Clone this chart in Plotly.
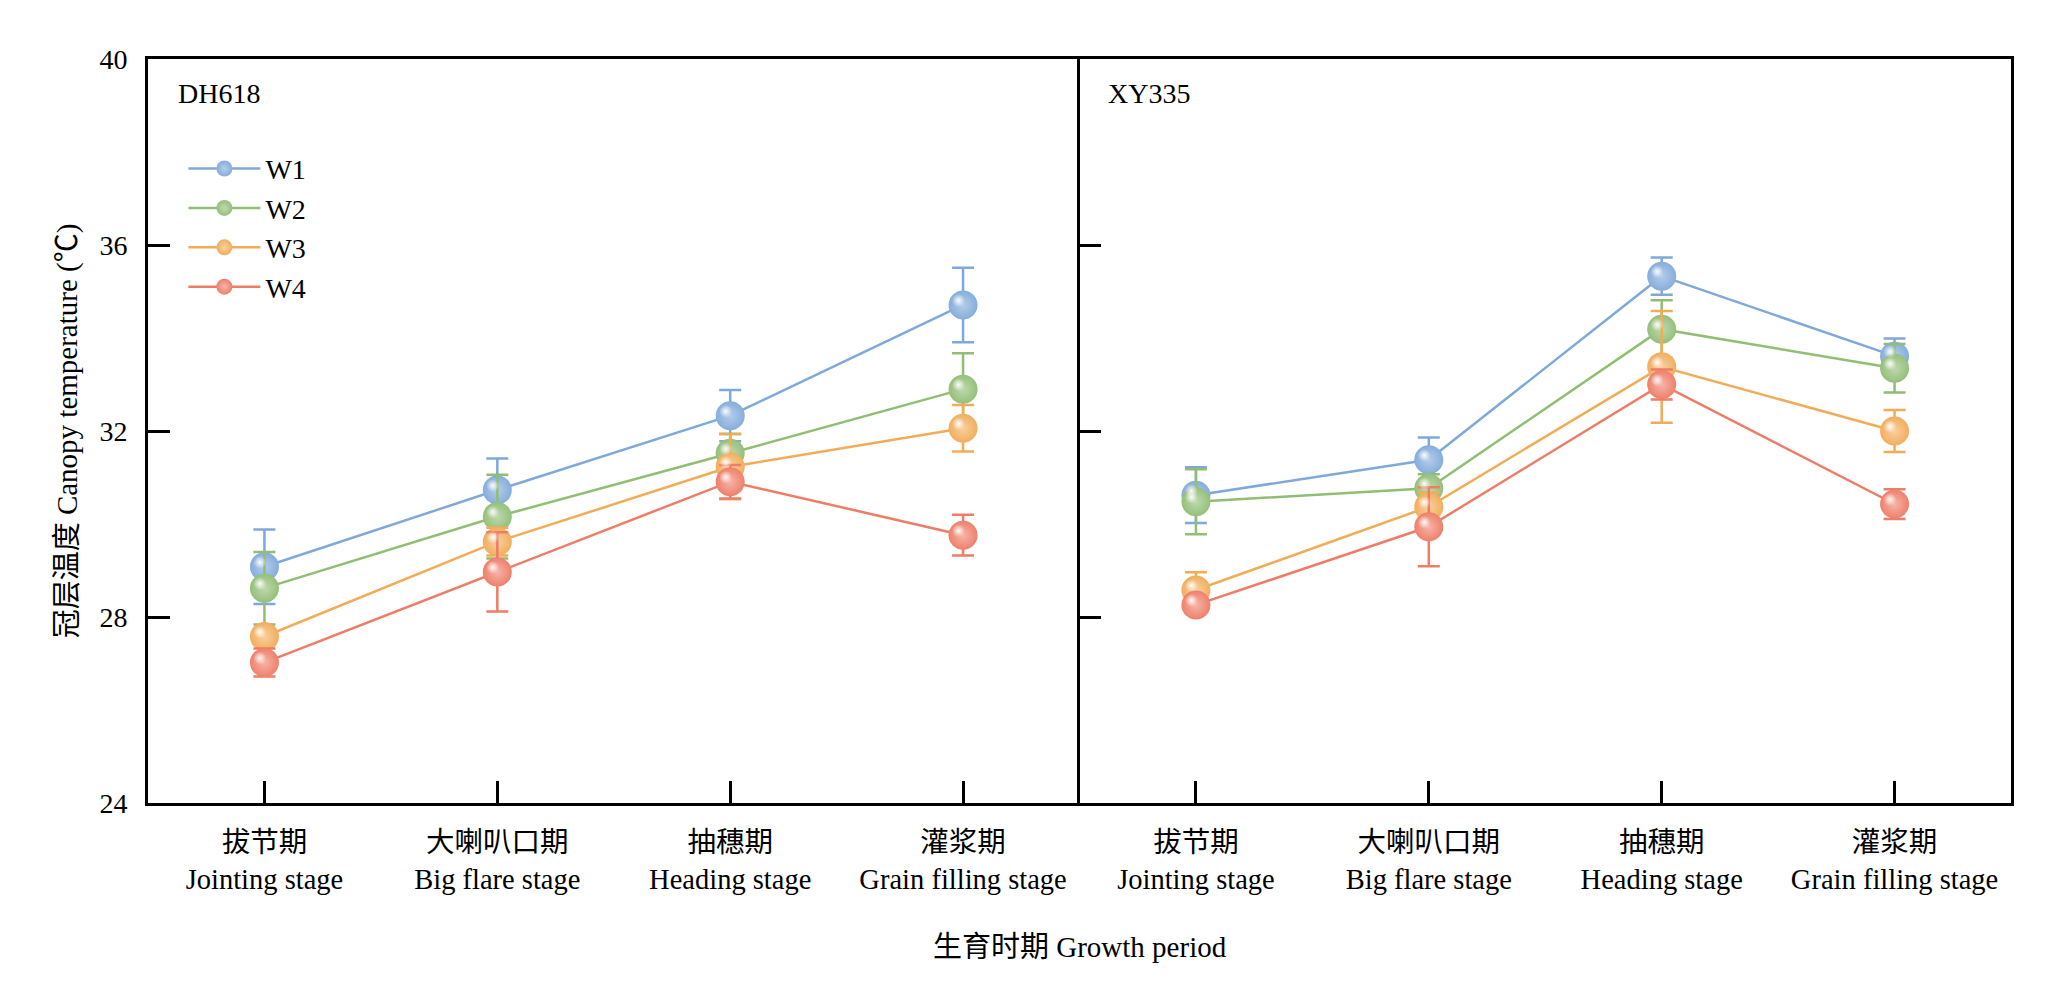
import plotly.graph_objects as go

# ---------------- data ----------------
stages_cn = ["拔节期", "大喇叭口期", "抽穗期", "灌浆期"]
stages_en = ["Jointing stage", "Big flare stage", "Heading stage", "Grain filling stage"]
series = ["W1", "W2", "W3", "W4"]
panels = ["DH618", "XY335"]

dh618_W1 = [29.08, 30.73, 32.33, 34.71]
dh618_W2 = [28.62, 30.16, 31.52, 32.90]
dh618_W3 = [27.58, 29.62, 31.23, 32.06]
dh618_W4 = [27.02, 28.97, 30.91, 29.76]
dh618_W1_err = [0.80, 0.68, 0.55, 0.80]
dh618_W2_err = [0.78, 0.90, 0.42, 0.77]
dh618_W3_err = [0.15, 0.30, 0.70, 0.50]
dh618_W4_err = [0.30, 0.85, 0.36, 0.44]

xy335_W1 = [30.62, 31.38, 35.33, 33.61]
xy335_W2 = [30.48, 30.77, 34.19, 33.35]
xy335_W3 = [28.58, 30.37, 33.38, 32.00]
xy335_W4 = [28.26, 29.94, 33.00, 30.43]
xy335_W1_err = [0.60, 0.48, 0.40, 0.38]
xy335_W2_err = [0.70, 0.30, 0.62, 0.52]
xy335_W3_err = [0.38, 0.30, 1.20, 0.45]
xy335_W4_err = [0.12, 0.85, 0.32, 0.32]

y_ticks = [24, 28, 32, 36, 40]

# ---------------- style ----------------
line_colors = {"W1": "#7FA9DB", "W2": "#90BE73", "W3": "#F2AC58", "W4": "#EE7C66"}
marker_colors = {"W1": "#86ADDB", "W2": "#95BF7B", "W3": "#F1AE5E", "W4": "#EE806B"}
marker_tints = {"W1": "#B4CDEA", "W2": "#BFD9AE", "W3": "#F8D0A0", "W4": "#F6B5A8"}
FONT = "Liberation Serif, Times New Roman, Noto Sans CJK SC, serif"

categories = [f"{c}<br>{e}" for c, e in zip(stages_cn, stages_en)]

data = {
    "DH618": {"W1": (dh618_W1, dh618_W1_err), "W2": (dh618_W2, dh618_W2_err),
              "W3": (dh618_W3, dh618_W3_err), "W4": (dh618_W4, dh618_W4_err)},
    "XY335": {"W1": (xy335_W1, xy335_W1_err), "W2": (xy335_W2, xy335_W2_err),
              "W3": (xy335_W3, xy335_W3_err), "W4": (xy335_W4, xy335_W4_err)},
}

fig = go.Figure()

axis_pairs = {"DH618": ("x", "y", "x3", "y3"), "XY335": ("x2", "y2", "x4", "y4")}

for p in panels:
    xa, ya, hxa, hya = axis_pairs[p]
    for s in series:
        vals, errs = data[p][s]
        fig.add_trace(go.Scatter(
            x=categories, y=vals, xaxis=xa, yaxis=ya,
            mode="lines+markers", name=s, legendgroup=s,
            showlegend=(p == "DH618"),
            line=dict(color=line_colors[s], width=2.5),
            marker=dict(size=29, color=marker_colors[s],
                        gradient=dict(type="radial", color=marker_tints[s]),
                        line=dict(width=0)),
            error_y=dict(type="data", array=errs, visible=True,
                         color=line_colors[s], thickness=2.5, width=11),
        ))
    # specular highlight, same data, on slightly shifted overlay axes
    for s in series:
        vals, errs = data[p][s]
        fig.add_trace(go.Scatter(
            x=categories, y=vals, xaxis=hxa, yaxis=hya,
            mode="markers", showlegend=False, hoverinfo="skip",
            marker=dict(size=13, color="rgba(255,255,255,0)",
                        gradient=dict(type="radial", color="rgba(255,255,255,0.95)"),
                        line=dict(width=0)),
        ))

W, H = 2052, 993
ml, mr, mt, mb = 148, 41, 59, 190
pw = W - ml - mr
ph = H - mt - mb
cat_px = pw / 2 / 4
unit_px = ph / 16.0
dx = 4.5 / cat_px
dy = 4.5 / unit_px

tick_common = dict(showline=True, linecolor="black", linewidth=2.7,
                   ticks="inside", ticklen=22, tickwidth=2.5, tickcolor="black",
                   showgrid=False, zeroline=False)

fig.update_layout(
    width=W, height=H,
    margin=dict(l=ml, r=mr, t=mt, b=mb),
    paper_bgcolor="white", plot_bgcolor="white",
    font=dict(family=FONT, size=28, color="black"),
    showlegend=True,
    legend=dict(x=0.019, y=0.886, xanchor="left", yanchor="top",
                bgcolor="rgba(0,0,0,0)", font=dict(size=28, family=FONT),
                itemwidth=72, tracegroupgap=0),
    xaxis=dict(domain=[0, 0.5], range=[-0.5, 3.5], type="category", mirror=True,
               ticklabelstandoff=12, tickfont=dict(size=28.5), **tick_common),
    xaxis2=dict(domain=[0.5, 1], range=[-0.5, 3.5], type="category", mirror=True,
                ticklabelstandoff=12, tickfont=dict(size=28.5), anchor="y2", **tick_common),
    yaxis=dict(range=[24, 40], tickvals=y_ticks, ticklabelstandoff=12, mirror=False,
               title=dict(text="冠层温度 Canopy temperature (℃)", standoff=14,
                          font=dict(size=29)),
               **tick_common),
    yaxis2=dict(range=[24, 40], tickvals=y_ticks, showticklabels=False, mirror=True,
                anchor="x2", **tick_common),
    xaxis3=dict(overlaying="x", type="category", range=[-0.5 + dx, 3.5 + dx],
                visible=False, anchor="y3"),
    yaxis3=dict(overlaying="y", range=[24 - dy, 40 - dy], visible=False, anchor="x3"),
    xaxis4=dict(overlaying="x2", type="category", range=[-0.5 + dx, 3.5 + dx],
                visible=False, anchor="y4"),
    yaxis4=dict(overlaying="y2", range=[24 - dy, 40 - dy], visible=False, anchor="x4"),
    annotations=[
        dict(text=panels[0], xref="x domain", yref="y domain", x=0.03, y=0.954,
             xanchor="left", yanchor="middle", showarrow=False, font=dict(size=28)),
        dict(text=panels[1], xref="x2 domain", yref="y2 domain", x=0.028, y=0.954,
             xanchor="left", yanchor="middle", showarrow=False, font=dict(size=28)),
        dict(text="生育时期 Growth period", xref="paper", yref="paper", x=0.5,
             y=-(947 - (H - mb)) / ph, xanchor="center", yanchor="middle",
             showarrow=False, font=dict(size=29)),
    ],
)

fig.write_html("out.html", config={"displayModeBar": False},
               post_script="document.body.style.margin='0';")
